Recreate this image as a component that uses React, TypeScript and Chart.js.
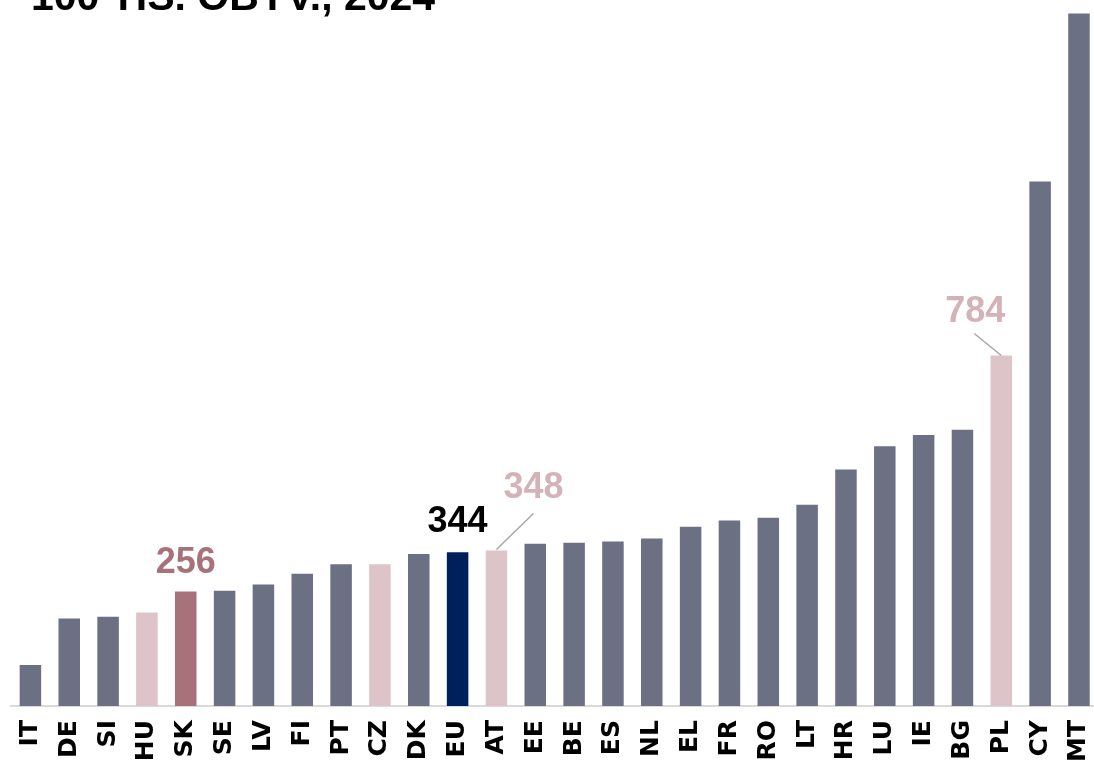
import React, { useEffect, useRef } from "react";
import { Chart, registerables } from "chart.js";

Chart.register(...registerables);

const categories = ["IT","DE","SI","HU","SK","SE","LV","FI","PT","CZ","DK","EU","AT","EE","BE","ES","NL","EL","FR","RO","LT","HR","LU","IE","BG","PL","CY","MT"];
const values = [92,196,200,209,256,258,272,296,317,317,340,344,348,363,365,368,375,401,415,421,450,529,581,606,618,784,1173,1549];
const highlightLight = ["HU","CZ","AT","PL"];
const highlightDark = ["SK"];
const highlightEU = ["EU"];
const titleText = "100 TIS. OBYV., 2024";

const GREY = "#6b7183";
const LIGHT = "#dcc4c8";
const DARK = "#a8727b";
const NAVY = "#00205b";

const annotations = [
  { cat: "SK", text: "256", color: DARK, dx: 0, dy: -19, leader: null },
  { cat: "EU", text: "344", color: "#000000", dx: 0, dy: -20, leader: null },
  { cat: "AT", text: "348", color: "#d4b3b8", dx: 37, dy: -52, leader: [0, -1, 37, -37] },
  { cat: "PL", text: "784", color: "#d4b3b8", dx: -26, dy: -34, leader: [-27, -22, 0, 0] },
];

const annotPlugin = {
  id: "annot",
  afterDatasetsDraw(chart: any) {
    const ctx = chart.ctx;
    const xs = chart.scales.x;
    const ys = chart.scales.y;
    ctx.save();
    annotations.forEach((a) => {
      const i = categories.indexOf(a.cat);
      const x = xs.getPixelForValue(i);
      const y = ys.getPixelForValue(values[i]);
      if (a.leader) {
        ctx.strokeStyle = "#a6a6a6";
        ctx.lineWidth = 1.5;
        ctx.beginPath();
        ctx.moveTo(x + a.leader[0], y + a.leader[1]);
        ctx.lineTo(x + a.leader[2], y + a.leader[3]);
        ctx.stroke();
      }
      ctx.fillStyle = a.color;
      ctx.font = 'bold 36px "Liberation Sans", Arial, sans-serif';
      ctx.textAlign = "center";
      ctx.textBaseline = "alphabetic";
      ctx.fillText(a.text, x + a.dx, y + a.dy);
    });
    ctx.fillStyle = "#000";
    ctx.font = 'bold 41px "Liberation Sans", Arial, sans-serif';
    ctx.textAlign = "left";
    ctx.textBaseline = "alphabetic";
    ctx.fillText(titleText, 31, 10);
    ctx.restore();
  },
};

export default function App() {
  const ref = useRef<HTMLCanvasElement>(null);
  useEffect(() => {
    if (!ref.current) return;
    const colors = categories.map((c) =>
      highlightEU.includes(c) ? NAVY : highlightDark.includes(c) ? DARK : highlightLight.includes(c) ? LIGHT : GREY
    );
    const chart = new Chart(ref.current, {
      type: "bar",
      data: {
        labels: categories,
        datasets: [
          {
            data: values,
            backgroundColor: colors,
            borderWidth: 0,
            categoryPercentage: 1,
            barPercentage: 0.554,
          },
        ],
      },
      options: {
        responsive: false,
        animation: false,
        layout: { padding: { top: 9, left: 11, right: 2, bottom: 0 } },
        plugins: { legend: { display: false }, tooltip: { enabled: false }, title: { display: false } },
        scales: {
          x: {
            grid: { display: false },
            border: { display: true, color: "#d9d9d9", width: 2 },
            ticks: {
              color: "#000",
              minRotation: 90,
              maxRotation: 90,
              padding: 6,
              font: { family: '"DejaVu Sans", sans-serif', weight: "bold", size: 25 },
            },
          },
          y: { display: false, min: 0, max: 1559 },
        },
      },
      plugins: [annotPlugin],
    });
    return () => chart.destroy();
  }, []);
  return (
    <div style={{ position: "fixed", left: 0, top: 0, width: 1094, height: 765, overflow: "hidden", background: "#fff" }}>
      <canvas ref={ref} width={1115} height={768} style={{ display: "block" }} />
    </div>
  );
}
